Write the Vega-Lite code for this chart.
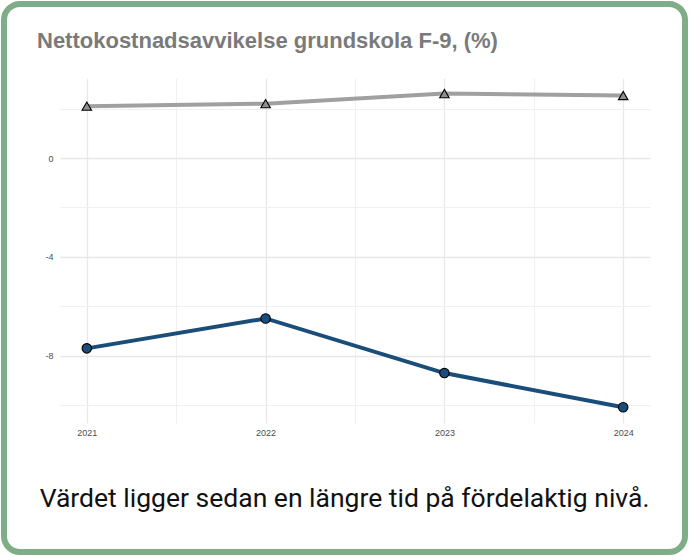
{
  "$schema": "https://vega.github.io/schema/vega-lite/v6.json",
  "width": 681,
  "height": 548,
  "autosize": {"type": "none"},
  "padding": {"left": 4, "top": 4, "right": 4, "bottom": 4},
  "background": "white",
  "config": {
    "view": {"stroke": "#7fad88", "strokeWidth": 6, "cornerRadius": 16, "fill": "white"},
    "font": "Liberation Sans"
  },
  "title": {
    "text": "Nettokostnadsavvikelse grundskola F-9, (%)",
    "anchor": "start",
    "frame": "group",
    "orient": "top",
    "offset": -66,
    "dx": 33,
    "baseline": "alphabetic",
    "fontSize": 22,
    "fontWeight": "bold",
    "color": "#7a7a7a",
    "font": "Liberation Sans"
  },
  "data": {
    "values": [
      {"year": 2021, "value": 2.10, "series": "Referens"},
      {"year": 2022, "value": 2.20, "series": "Referens"},
      {"year": 2023, "value": 2.61, "series": "Referens"},
      {"year": 2024, "value": 2.53, "series": "Referens"},
      {"year": 2021, "value": -7.70, "series": "Kommun"},
      {"year": 2022, "value": -6.49, "series": "Kommun"},
      {"year": 2023, "value": -8.70, "series": "Kommun"},
      {"year": 2024, "value": -10.08, "series": "Kommun"}
    ]
  },
  "layer": [
    {
      "mark": {"type": "line", "strokeWidth": 4},
      "encoding": {
        "x": {
          "field": "year", "type": "quantitative",
          "scale": {"domain": [2020.85, 2024.15], "range": [56, 646], "nice": false, "zero": false},
          "axis": {
            "values": [2021, 2022, 2023, 2024], "format": "d", "orient": "top", "offset": -419,
            "domain": false, "ticks": false, "tickSize": 0, "labelPadding": -5, "labelBaseline": "top", "labelFontSize": 9,
            "labelColor": "#4d4d4d", "labelFont": "Liberation Sans", "labelFlush": false,
            "grid": true, "gridColor": "#e8e8e8", "gridWidth": 1.3,
            "title": "Värdet ligger sedan en längre tid på fördelaktig nivå.",
            "titleFont": "Roboto", "titleFontSize": 26.5, "titleFontWeight": "normal", "titleColor": "#111111",
            "titleX": 340, "titleY": 83, "titleAlign": "center", "titleBaseline": "alphabetic"
          }
        },
        "y": {
          "field": "value", "type": "quantitative",
          "scale": {"domain": [-10.72, 3.24], "range": [419, 74], "nice": false, "zero": false},
          "axis": {
            "values": [0, -4, -8], "labelExpr": "'' + datum.value", "orient": "left", "offset": -56, "labelPadding": 7,
            "domain": false, "ticks": false, "tickSize": 0, "labelFontSize": 9, "labelColor": "#4d4d4d",
            "labelFont": "Liberation Sans", "grid": true, "gridColor": "#e8e8e8", "gridWidth": 1.3, "title": null
          }
        },
        "color": {
          "field": "series", "type": "nominal",
          "scale": {"domain": ["Referens", "Kommun"], "range": ["#a0a0a0", "#1b4d7a"]},
          "legend": null
        }
      }
    },
    {
      "mark": {"type": "point", "filled": true, "stroke": "black", "strokeWidth": 1.1, "size": 90, "opacity": 1},
      "encoding": {
        "x": {
          "field": "year", "type": "quantitative",
          "axis": {
            "values": [2021.5, 2022.5, 2023.5], "orient": "top", "offset": -419, "labels": false,
            "domain": false, "ticks": false, "grid": true, "gridColor": "#f0f0f0", "gridWidth": 1, "title": null
          }
        },
        "y": {
          "field": "value", "type": "quantitative",
          "axis": {
            "values": [2, -2, -6, -10], "orient": "left", "offset": -56, "labels": false,
            "domain": false, "ticks": false, "grid": true, "gridColor": "#f0f0f0", "gridWidth": 1, "title": null
          }
        },
        "shape": {
          "field": "series", "type": "nominal",
          "scale": {"domain": ["Referens", "Kommun"], "range": ["triangle-up", "circle"]},
          "legend": null
        },
        "fill": {
          "field": "series", "type": "nominal",
          "scale": {"domain": ["Referens", "Kommun"], "range": ["#8e8e8e", "#1b4d7a"]},
          "legend": null
        }
      }
    }
  ],
  "resolve": {"axis": {"x": "independent", "y": "independent"}}
}
